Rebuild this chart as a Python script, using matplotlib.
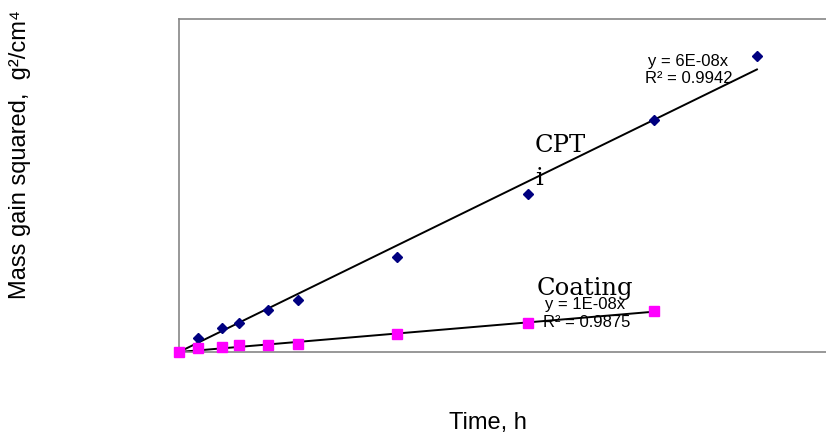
import matplotlib
matplotlib.use("Agg")
import matplotlib.pyplot as plt
import numpy as np

# oxidation test times (h) and mass gain squared (g^2/cm^4)
time_cpti = [0, 5.5, 12.5, 17.5, 26, 34.5, 63.5, 101.5, 138, 168]
gain_cpti = [0, 5.0e-7, 8.6e-7, 1.05e-6, 1.51e-6, 1.87e-6, 3.42e-6, 5.69e-6, 8.36e-6, 1.067e-5]

time_coat = [0, 5.5, 12.5, 17.5, 26, 34.5, 63.5, 101.5, 138]
gain_coat = [0, 1.4e-7, 1.8e-7, 2.5e-7, 2.5e-7, 2.9e-7, 6.5e-7, 1.05e-6, 1.48e-6]

eq_cpti = ["y = 6E-08x", "R² = 0.9942"]
eq_coat = ["y = 1E-08x", "R² = 0.9875"]

sans = ["Liberation Sans", "DejaVu Sans"]


def fit_origin(x, y):
    # linear trendline forced through zero, like the spreadsheet one
    x = np.asarray(x, dtype=float)
    y = np.asarray(y, dtype=float)
    k = np.sum(x * y) / np.sum(x * x)
    xs = np.array([0, x.max()])
    return xs, k * xs


fig = plt.figure(figsize=(8.26, 4.38), dpi=100)
ax = fig.add_axes([179 / 826, 86 / 438, 647 / 826, 333 / 438])

xs, ys = fit_origin(time_cpti, gain_cpti)
ax.plot(xs, ys, color="black", lw=1.4, zorder=2)
xs, ys = fit_origin(time_coat, gain_coat)
ax.plot(xs, ys, color="black", lw=1.4, zorder=2)

ax.plot(time_cpti, gain_cpti, ls="none", marker="D", ms=5.5, color="#000080",
        zorder=3, clip_on=False)
ax.plot(time_coat, gain_coat, ls="none", marker="s", ms=7, color="#FF00FF",
        zorder=4, clip_on=False)

ax.set_xlim(0, 647 / 3.44)
ax.set_ylim(0, 1.2e-5)
ax.set_xticks([])
ax.set_yticks([])
for side in ["left", "top", "bottom"]:
    ax.spines[side].set_color("#868686")
    ax.spines[side].set_linewidth(1.2)
ax.spines["right"].set_visible(False)

ax.text(0.787, 0.871, eq_cpti[0], transform=ax.transAxes, ha="center", va="center",
        fontsize=12, family=sans)
ax.text(0.788, 0.820, eq_cpti[1], transform=ax.transAxes, ha="center", va="center",
        fontsize=12, family=sans)
ax.text(0.6275, 0.144, eq_coat[0], transform=ax.transAxes, ha="center", va="center",
        fontsize=12, family=sans)
ax.text(0.6306, 0.090, eq_coat[1], transform=ax.transAxes, ha="center", va="center",
        fontsize=12, family=sans)

ax.text(0.550, 0.601, "CPT", transform=ax.transAxes, ha="left", va="baseline",
        fontsize=17.5, family="DejaVu Serif")
ax.text(0.550, 0.502, "i", transform=ax.transAxes, ha="left", va="baseline",
        fontsize=17.5, family="DejaVu Serif")
ax.text(0.552, 0.171, "Coating", transform=ax.transAxes, ha="left", va="baseline",
        fontsize=17.5, family="DejaVu Serif")

ax.set_xlabel("Time, h", fontsize=17, family=sans)
ax.xaxis.label.set_va("center")
ax.xaxis.set_label_coords(0.4776, -0.213)
ax.set_ylabel("Mass gain squared,  g²/cm⁴", fontsize=17, family=sans)
ax.yaxis.label.set_va("center")
ax.yaxis.set_label_coords(-0.245, 0.594)

fig.savefig("out.png", dpi=100)
